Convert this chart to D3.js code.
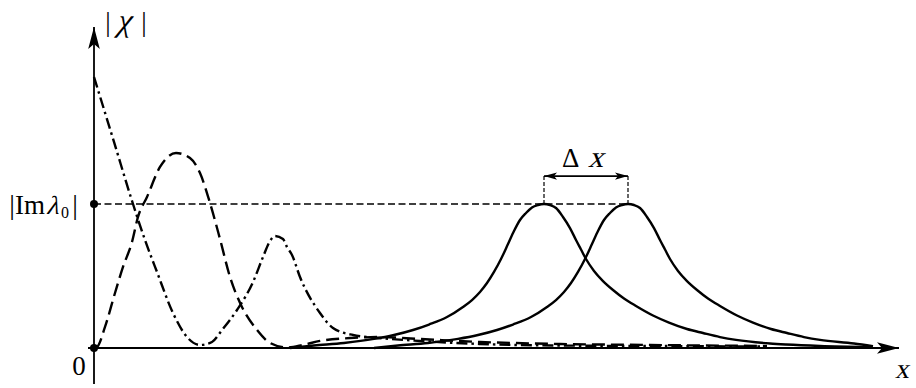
<!DOCTYPE html>
<html>
<head>
<meta charset="utf-8">
<script src="https://cdn.jsdelivr.net/npm/d3@7"></script>
<style>
  html, body { margin: 0; padding: 0; background: #fff; }
  svg { display: block; }
  text { font-family: "Liberation Serif", "Times New Roman", Times, serif; fill: #000; }
</style>
</head>
<body>
<svg id="chart" width="916" height="388"></svg>
<script>
// ---- data (x in arbitrary units, y in units of |Im λ0|) ----
const dashDotX = [0, 2.0, 3.9, 5.1, 6.3, 7.9, 9.3, 10.6, 11.8, 12.8, 14.3, 15.9, 16.9, 17.6, 18.1, 18.9, 19.3, 19.8, 20.6, 22.6, 23.9, 25.9, 28.6, 32.6, 38.6, 46.6, 55.6, 66.6];
const dashDotY = [1.882, 1.431, 1.0, 0.75, 0.528, 0.243, 0.076, 0.021, 0.042, 0.125, 0.264, 0.458, 0.632, 0.743, 0.778, 0.757, 0.701, 0.646, 0.493, 0.243, 0.139, 0.090, 0.069, 0.049, 0.028, 0.017, 0.014, 0.010];

const dashedX = [0, 0.3, 1.1, 2.1, 2.9, 3.8, 4.4, 5.3, 6.6, 8.2, 9.6, 10.6, 11.6, 12.6, 13.6, 14.7, 16.3, 17.6, 19.3, 20.9, 22.6, 25.6, 28.6, 32.6, 38.6, 46.6, 55.6, 67.3];
const dashedY = [0, 0.007, 0.146, 0.382, 0.563, 0.736, 0.910, 1.049, 1.257, 1.354, 1.319, 1.215, 1.007, 0.757, 0.493, 0.299, 0.125, 0.035, 0.003, 0.021, 0.049, 0.069, 0.076, 0.0625, 0.042, 0.028, 0.021, 0.014];

const solid1X = [19.6, 22.0, 25.0, 28.0, 30.0, 31.9, 33.5, 35.3, 36.9, 37.8, 38.6, 39.3, 40.0, 40.7, 41.4, 42.0, 42.6, 43.2, 43.8, 44.4, 45.0,
                 45.6, 46.2, 46.9, 47.6, 48.2, 48.7, 49.2, 50.0, 50.9, 51.9, 53.0, 54.2, 55.9, 57.5, 59.3, 60.9, 62.6, 64.2, 67.6, 69.2, 72.6, 77.6];
const solid1Y = [0, 0.017, 0.035, 0.063, 0.090, 0.125, 0.163, 0.215, 0.285, 0.333, 0.389, 0.451, 0.528, 0.618, 0.722, 0.8125, 0.889, 0.9375, 0.976, 0.993, 1.0,
                 0.993, 0.972, 0.910, 0.833, 0.75, 0.684, 0.618, 0.535, 0.465, 0.403, 0.344, 0.292, 0.226, 0.177, 0.132, 0.104, 0.076, 0.056, 0.031, 0.024, 0.014, 0.007];

const solid2X = [28.0, 30.4, 33.4, 36.4, 38.4, 40.3, 41.9, 43.7, 45.3, 46.2, 47.0, 47.7, 48.4, 49.1, 49.8, 50.4, 51.0, 51.6, 52.2, 52.8, 53.4,
                 54.0, 54.6, 55.3, 56.0, 56.6, 57.1, 57.6, 58.4, 59.3, 60.3, 61.4, 62.6, 64.3, 65.9, 67.7, 69.3, 71.0, 72.6, 76.0, 77.9];
const solid2Y = [0, 0.017, 0.035, 0.063, 0.090, 0.125, 0.163, 0.215, 0.285, 0.333, 0.389, 0.451, 0.528, 0.618, 0.722, 0.8125, 0.889, 0.9375, 0.976, 0.993, 1.0,
                 0.993, 0.972, 0.910, 0.833, 0.75, 0.684, 0.618, 0.535, 0.465, 0.403, 0.344, 0.292, 0.226, 0.177, 0.132, 0.104, 0.076, 0.056, 0.031, 0.012];

const peak1 = 45.0, peak2 = 53.4;     // peak positions of the two solid curves
const levelImLambda = 1.0;            // |Im λ0|
const deltaArrowY = 1.194;            // height of the Δx arrow

// ---- scales ----
const x = d3.scaleLinear().domain([0, 80.5]).range([94, 899]);
const y = d3.scaleLinear().domain([0, 1]).range([348, 204]);

const svg = d3.select("#chart");

// markers
const defs = svg.append("defs");
function stealth(id, L, W, notch) {
  defs.append("marker").attr("id", id)
    .attr("viewBox", `${-L} ${-W} ${L} ${2 * W}`)
    .attr("refX", 0).attr("refY", 0)
    .attr("markerWidth", L).attr("markerHeight", 2 * W)
    .attr("markerUnits", "userSpaceOnUse")
    .attr("orient", "auto-start-reverse")
    .append("path")
    .attr("d", `M0,0 L${-L},${-W} L${-L + notch},0 L${-L},${W} Z`)
    .attr("fill", "#000");
}
stealth("bigArrow", 22, 5.8, 5);
stealth("smallArrow", 13, 3.6, 3);

// axes
svg.append("line")
  .attr("x1", x(0)).attr("x2", x(0))
  .attr("y1", 384).attr("y2", 27)
  .attr("stroke", "#000").attr("stroke-width", 1.8)
  .attr("marker-end", "url(#bigArrow)");
svg.append("line")
  .attr("x1", x(0) - 6).attr("x2", x(80.5))
  .attr("y1", y(0)).attr("y2", y(0))
  .attr("stroke", "#000").attr("stroke-width", 1.8)
  .attr("marker-end", "url(#bigArrow)");

// horizontal level line |Im λ0|
svg.append("line")
  .attr("x1", x(0)).attr("x2", x(peak2))
  .attr("y1", y(levelImLambda)).attr("y2", y(levelImLambda))
  .attr("stroke", "#000").attr("stroke-width", 1.4)
  .attr("stroke-dasharray", "7,3.5");

// vertical guides & Δx arrow
[peak1, peak2].forEach(p => {
  svg.append("line")
    .attr("x1", x(p)).attr("x2", x(p))
    .attr("y1", y(levelImLambda)).attr("y2", y(deltaArrowY))
    .attr("stroke", "#000").attr("stroke-width", 1.2)
    .attr("stroke-dasharray", "4,2");
});
svg.append("line")
  .attr("x1", x(peak1)).attr("x2", x(peak2))
  .attr("y1", y(deltaArrowY)).attr("y2", y(deltaArrowY))
  .attr("stroke", "#000").attr("stroke-width", 1.8)
  .attr("marker-start", "url(#smallArrow)")
  .attr("marker-end", "url(#smallArrow)");

// curves
const lineGen = d3.line().x(d => x(d[0])).y(d => y(d[1])).curve(d3.curveMonotoneX);
function drawCurve(xs, ys, dash) {
  svg.append("path")
    .attr("d", lineGen(xs.map((v, i) => [v, ys[i]])))
    .attr("fill", "none").attr("stroke", "#000")
    .attr("stroke-width", 2.4)
    .attr("stroke-dasharray", dash);
}
drawCurve(dashDotX, dashDotY, "11,4,2.5,4");
drawCurve(dashedX, dashedY, "13,6");
drawCurve(solid1X, solid1Y, null);
drawCurve(solid2X, solid2Y, null);

// dots
svg.append("circle").attr("cx", x(0)).attr("cy", y(levelImLambda)).attr("r", 4).attr("fill", "#000");
svg.append("circle").attr("cx", x(0)).attr("cy", y(0)).attr("r", 4).attr("fill", "#000");

// labels
function label(tx, ty, size, str, opts = {}) {
  const t = svg.append("text")
    .attr("transform", `translate(${tx},${ty})` + (opts.slant ? ` skewX(${opts.slant})` : ""))
    .attr("font-size", size)
    .attr("text-anchor", opts.anchor || "start")
    .text(str);
  return t;
}
label(108, 31, 27, "|", { anchor: "middle" });
label(123, 31, 32, "χ", { anchor: "middle", slant: -16 });
label(144, 31, 27, "|", { anchor: "middle" });

label(12, 214, 28, "|", { anchor: "middle" });
label(15, 214, 27, "Im");
label(46, 214, 26, "λ", { slant: -16 });
label(61, 218, 16, "0");
label(75, 214, 28, "|", { anchor: "middle" });

label(79, 375, 27, "0", { anchor: "middle" });
label(902, 378, 28, "x", { anchor: "middle", slant: -10 });

label(562, 167, 27, "Δ");
label(588, 167, 30, "x", { slant: -16 });
</script>
</body>
</html>
